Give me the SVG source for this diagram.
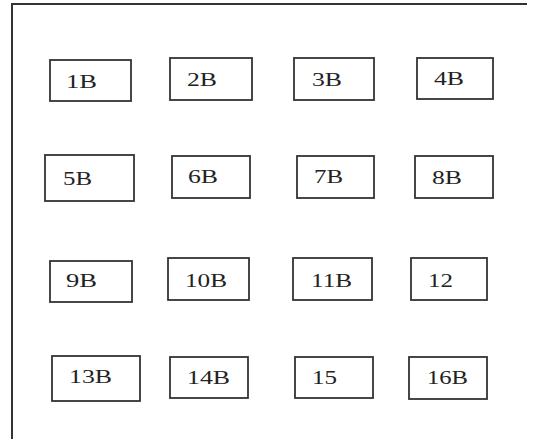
<svg xmlns="http://www.w3.org/2000/svg" width="535" height="439" viewBox="0 0 535 439">
<style>
.box{fill:#fff;stroke:#333;stroke-width:1.8}
.frame{stroke:#333;stroke-width:2;fill:none}
text{font-family:"Liberation Serif","Times New Roman",serif;font-size:19px;fill:#222}
</style>
<rect width="535" height="439" fill="#fff"/>
<g id="frame"><path class="frame" d="M12,439 V4 H527"/></g>
<g id="connectors"></g>
<g id="n1B"><rect class="box" x="50" y="60" width="81" height="41"/><text x="66" y="88" textLength="31" lengthAdjust="spacingAndGlyphs">1B</text></g>
<g id="n2B"><rect class="box" x="170" y="58" width="82" height="42"/><text x="187" y="86" textLength="30" lengthAdjust="spacingAndGlyphs">2B</text></g>
<g id="n3B"><rect class="box" x="294" y="58" width="80" height="42"/><text x="312" y="86" textLength="30" lengthAdjust="spacingAndGlyphs">3B</text></g>
<g id="n4B"><rect class="box" x="417" y="58" width="76" height="41"/><text x="434" y="85" textLength="30" lengthAdjust="spacingAndGlyphs">4B</text></g>
<g id="n5B"><rect class="box" x="45" y="155" width="89" height="46"/><text x="63" y="185" textLength="29" lengthAdjust="spacingAndGlyphs">5B</text></g>
<g id="n6B"><rect class="box" x="172" y="156" width="78" height="42"/><text x="188" y="183" textLength="30" lengthAdjust="spacingAndGlyphs">6B</text></g>
<g id="n7B"><rect class="box" x="297" y="156" width="77" height="42"/><text x="314" y="183" textLength="29" lengthAdjust="spacingAndGlyphs">7B</text></g>
<g id="n8B"><rect class="box" x="415" y="156" width="78" height="42"/><text x="432" y="184" textLength="30" lengthAdjust="spacingAndGlyphs">8B</text></g>
<g id="n9B"><rect class="box" x="50" y="261" width="82" height="41"/><text x="66" y="287" textLength="31" lengthAdjust="spacingAndGlyphs">9B</text></g>
<g id="n10B"><rect class="box" x="168" y="258" width="81" height="42"/><text x="185" y="287" textLength="42" lengthAdjust="spacingAndGlyphs">10B</text></g>
<g id="n11B"><rect class="box" x="293" y="258" width="79" height="42"/><text x="311" y="287" textLength="41" lengthAdjust="spacingAndGlyphs">11B</text></g>
<g id="n12"><rect class="box" x="411" y="258" width="76" height="42"/><text x="428" y="287" textLength="25" lengthAdjust="spacingAndGlyphs">12</text></g>
<g id="n13B"><rect class="box" x="52" y="356" width="88" height="45"/><text x="69" y="383" textLength="43" lengthAdjust="spacingAndGlyphs">13B</text></g>
<g id="n14B"><rect class="box" x="170" y="357" width="78" height="41"/><text x="187" y="384" textLength="43" lengthAdjust="spacingAndGlyphs">14B</text></g>
<g id="n15"><rect class="box" x="295" y="357" width="78" height="41"/><text x="312" y="384" textLength="25" lengthAdjust="spacingAndGlyphs">15</text></g>
<g id="n16B"><rect class="box" x="409" y="357" width="78" height="42"/><text x="427" y="384" textLength="41" lengthAdjust="spacingAndGlyphs">16B</text></g>
</svg>
